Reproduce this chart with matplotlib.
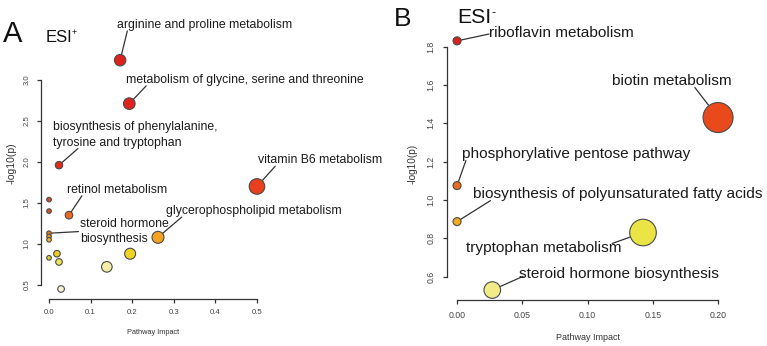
import matplotlib.pyplot as plt

plt.rcParams['font.family'] = ['Liberation Sans', 'DejaVu Sans']

# ---- ESI+ pathways (panel A) ----
impact_a = [0.171, 0.193, 0.024, 0.500, 0.048, 0.262,
            0.0, 0.0, 0.0, 0.0, 0.0, 0.0,
            0.195, 0.019, 0.024, 0.139, 0.029]
logp_a = [3.24, 2.71, 1.96, 1.70, 1.35, 1.08,
          1.54, 1.40, 1.13, 1.09, 1.05, 0.83,
          0.88, 0.88, 0.78, 0.72, 0.45]
names_a = ['arginine and proline metabolism',
           'metabolism of glycine, serine and threonine',
           'biosynthesis of phenylalanine,\ntyrosine and tryptophan',
           'vitamin B6 metabolism',
           'retinol metabolism',
           'glycerophospholipid metabolism',
           '', '', 'steroid hormone\nbiosynthesis', '', '', '',
           '', '', '', '', '']

# ---- ESI- pathways (panel B) ----
impact_b = [0.0, 0.200, 0.0, 0.0, 0.1425, 0.027]
logp_b = [1.83, 1.43, 1.075, 0.887, 0.83, 0.53]
names_b = ['riboflavin metabolism',
           'biotin metabolism',
           'phosphorylative pentose pathway',
           'biosynthesis of polyunsaturated fatty acids',
           'tryptophan metabolism',
           'steroid hormone biosynthesis']

# styles: bubble radius (px) and fill colour
radius_a = [5.7, 5.8, 3.7, 7.8, 3.8, 6.0,
            2.3, 2.3, 2.3, 2.3, 2.3, 2.3,
            5.5, 3.3, 3.3, 5.3, 3.3]
colors_a = ['#E0201C', '#E0221C', '#DF2A1C', '#E8401C', '#EC6A1E', '#F2A21E',
            '#DC4A20', '#DE5222', '#E07A24', '#E89A24', '#F0B428', '#E0D034',
            '#F0D424', '#EECC2E', '#F2E458', '#F6EEA8', '#FAF6DA']
radius_b = [4.0, 15.0, 4.0, 4.0, 13.3, 8.3]
colors_b = ['#D8201E', '#E84A1C', '#EA6A1E', '#F2AA1E', '#EAE444', '#F2EC88']

# label layout: text anchor (data coords, left / centre) and line start on text box
text_pos_a = {0: (0.163, 3.67), 1: (0.185, 3.00), 2: (0.010, 2.33), 3: (0.502, 2.02),
              4: (0.043, 1.66), 5: (0.281, 1.40), 8: (0.075, 1.15)}
relpos_a = {0: (0.06, 0.0), 1: (0.085, 0.0), 2: (0.15, 0.0), 3: (0.14, 0.0),
            4: (0.15, 0.0), 5: (0.09, 0.0), 8: (-0.02, 0.5)}
text_pos_b = [(0.0245, 1.873), (0.119, 1.623), (0.0038, 1.242),
              (0.0123, 1.033), (0.0069, 0.751), (0.0475, 0.616)]
relpos_b = [(0.0, 0.4), (0.69, 0.0), (0.017, 0.0), (0.06, 0.0), (0.94, 0.8), (0.02, 0.3)]

W, H = 767, 346
fig = plt.figure(figsize=(W / 100, H / 100), dpi=100)


def px(x, y):
    return x / W, 1 - y / H


def style_axes(ax, xb, yb, xt, yt, fmt, size, pad):
    for s in ['top', 'right']:
        ax.spines[s].set_visible(False)
    for s in ['left', 'bottom']:
        ax.spines[s].set_color('#333333')
        ax.spines[s].set_linewidth(0.9)
    ax.spines['left'].set_bounds(*yb)
    ax.spines['bottom'].set_bounds(*xb)
    ax.set_xticks(xt)
    ax.set_yticks(yt)
    ax.set_xticklabels([fmt.format(v) for v in xt])
    ax.set_yticklabels(['{:.1f}'.format(v) for v in yt], rotation=90, va='center')
    ax.tick_params(length=3, width=0.9, color='#333333', labelsize=size,
                   labelcolor='#444444', pad=pad)
    ax.patch.set_visible(False)


def bubbles(ax, xs, ys, radius, colors, names, tpos, rpos, fsize):
    sizes = [(1.44 * r) ** 2 for r in radius]
    ax.scatter(xs, ys, s=sizes, c=colors, edgecolors='#4a4a4a', linewidths=0.8,
               zorder=4, clip_on=False)
    for i, name in enumerate(names):
        if not name:
            continue
        ax.annotate(name, xy=(xs[i], ys[i]), xytext=tpos[i], textcoords='data',
                    ha='left', va='center', fontsize=fsize, color='#1a1a1a',
                    linespacing=1.4, annotation_clip=False, zorder=3,
                    arrowprops=dict(arrowstyle='-', color='#333333', lw=0.9,
                                    shrinkA=0, shrinkB=radius[i] * 0.72,
                                    patchA=None, relpos=rpos[i]))


# panel A
ax1 = fig.add_axes([40.7 / W, (H - 299) / H, 224.6 / W, 248 / H])
ax1.set_xlim(-0.02, 0.52)
ax1.set_ylim(0.328, 3.352)
style_axes(ax1, (0, 0.5), (0.5, 3.0), [0.0, 0.1, 0.2, 0.3, 0.4, 0.5],
           [0.5, 1.0, 1.5, 2.0, 2.5, 3.0], '{:.1f}', 5.6, 4.5)
bubbles(ax1, impact_a, logp_a, radius_a, colors_a, names_a, text_pos_a, relpos_a, 8.85)

# panel B
ax2 = fig.add_axes([446.6 / W, (H - 300) / H, 281.9 / W, 269.1 / H])
ax2.set_xlim(-0.008, 0.208)
ax2.set_ylim(0.478, 1.882)
style_axes(ax2, (0, 0.2), (0.6, 1.8), [0.0, 0.05, 0.10, 0.15, 0.20],
           [0.6, 0.8, 1.0, 1.2, 1.4, 1.6, 1.8], '{:.2f}', 6.3, 5)
bubbles(ax2, impact_b, logp_b, radius_b, colors_b, names_b, text_pos_b, relpos_b, 11.1)

# axis titles
fig.text(*px(153, 333), 'Pathway Impact', ha='center', va='center', fontsize=5.3, color='#333333')
fig.text(*px(12, 163), '-log10(p)', ha='center', va='center', fontsize=7.5, rotation=90, color='#333333')
fig.text(*px(588, 337), 'Pathway Impact', ha='center', va='center', fontsize=6.5, color='#333333')
fig.text(*px(413, 164), '-log10(p)', ha='center', va='center', fontsize=7.2, rotation=90, color='#333333')

# panel letters and ionisation mode
fig.text(*px(3, 42), 'A', fontsize=21, va='baseline', color='#111111')
fig.text(*px(46, 42), 'ESI', fontsize=12, va='baseline', color='#111111')
fig.text(*px(72, 35), '+', fontsize=6.5, va='baseline', color='#111111')
fig.text(*px(394, 26), 'B', fontsize=19, va='baseline', color='#111111')
fig.text(*px(457, 23), 'ESI', fontsize=15.3, va='baseline', color='#111111')
fig.text(*px(491, 16), '-', fontsize=9, va='baseline', color='#111111')

fig.savefig('out.png', dpi=100)
